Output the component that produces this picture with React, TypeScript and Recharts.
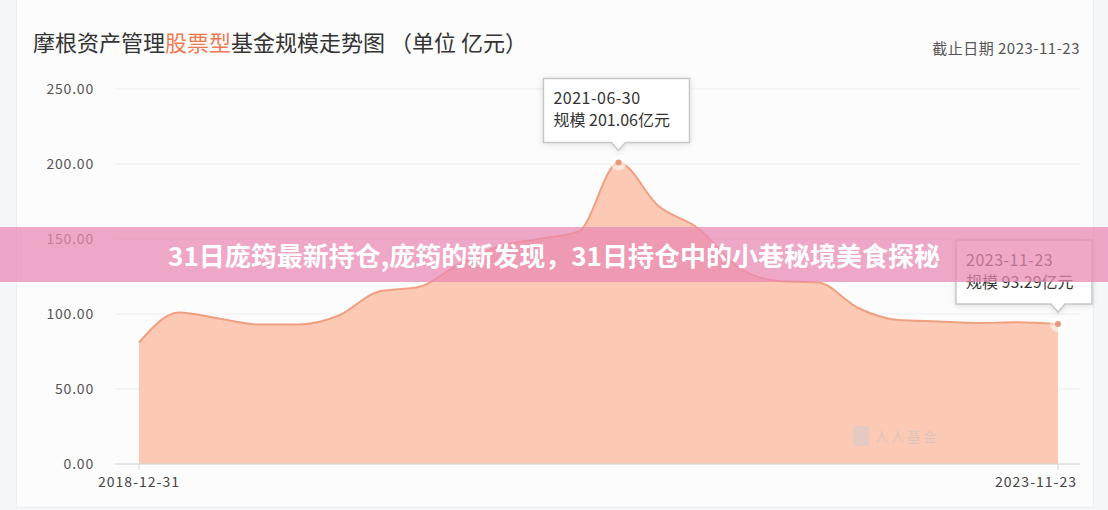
import { Area, AreaChart, CartesianGrid, LabelList, XAxis, YAxis } from "recharts";

// fund size (亿元)
const dates = [
  "2018-12-31", "2019-03-15", "2019-05-31", "2019-08-15", "2019-10-31", "2020-01-15",
  "2020-03-31", "2020-06-15", "2020-08-31", "2020-11-15", "2021-01-31", "2021-04-15",
  "2021-06-30", "2021-09-10", "2021-11-25", "2022-02-10", "2022-04-25", "2022-07-10",
  "2022-09-25", "2022-12-10", "2023-02-25", "2023-05-10", "2023-07-25", "2023-11-23",
];
const scale = [
  81, 101, 97, 93, 93, 99,
  115, 118, 133, 145, 150, 155,
  201.06, 172, 157, 131, 122, 121,
  104, 96, 95, 94, 94.5, 93.29,
];
const yTicks = [0, 50, 100, 150, 200, 250];
const xTicks = ["2018-12-31", "2023-11-23"];
const callouts = ["2021-06-30", "2023-11-23"];

const rows = dates.map((d, i) => ({ date: d, value: scale[i] }));

const FONT = '"Noto Sans CJK SC", "Noto Sans", sans-serif';

function Callout(props: any) {
  const { x, y, index } = props;
  const row = rows[index];
  if (!row || !callouts.includes(row.date)) return null;
  const w = row.value >= 100 ? 146 : 136;
  const h = 64;
  const left = Math.min(x - w / 2 - 2, 1092 - w);
  const bottom = y - 20;
  const top = bottom - h;
  return (
    <g>
      <path
        d={`M${left},${top} H${left + w} V${bottom} H${x + 7} L${x},${bottom + 8} L${x - 7},${bottom} H${left} Z`}
        fill="#fff"
        stroke="#c8c8c8"
        strokeWidth={1.5}
        style={{ filter: "drop-shadow(0 1px 3px rgba(0,0,0,0.12))" }}
      />
      <text x={left + 10} y={top + 26} fontSize={16} fill="#333" fontFamily={FONT} letterSpacing={0.5}>
        {row.date}
      </text>
      <text x={left + 10} y={top + 48} fontSize={16} fill="#333" fontFamily={FONT}>
        {`规模 ${row.value.toFixed(2)}亿元`}
      </text>
    </g>
  );
}

function Dot(props: any) {
  const { cx, cy, index } = props;
  const row = rows[index];
  if (!row || !callouts.includes(row.date)) return <g key={index} />;
  return (
    <g key={index}>
      <circle cx={cx} cy={cy} r={8} fill="#fff" fillOpacity={0.5} />
      <circle cx={cx} cy={cy} r={3} fill="#e9977a" />
    </g>
  );
}

function XTick(props: any) {
  const { x, y, payload } = props;
  const last = payload.value === xTicks[xTicks.length - 1];
  return (
    <text
      x={last ? x - 22 : x}
      y={y}
      dy={15}
      textAnchor="middle"
      fontSize={14}
      fill="#444"
      fontFamily={FONT}
      letterSpacing={1}
    >
      {payload.value}
    </text>
  );
}

export default function App() {
  return (
    <div
      style={{
        position: "absolute",
        left: 0,
        top: 0,
        width: 1108,
        height: 510,
        overflow: "hidden",
        background: "#f6f7f9",
        fontFamily: FONT,
      }}
    >
      <div
        style={{
          position: "absolute",
          left: 16,
          top: -2,
          width: 1076,
          height: 508,
          background: "#fcfcfd",
          border: "1px solid #eceef2",
        }}
      />
      <div style={{ position: "absolute", left: 33, top: 25, fontSize: 22, color: "#333", whiteSpace: "nowrap" }}>
        摩根资产管理<span style={{ color: "#f07a50" }}>股票型</span>基金规模走势图 （单位 亿元）
      </div>
      <div
        style={{
          position: "absolute",
          right: 28,
          top: 37,
          fontSize: 15,
          color: "#555",
          whiteSpace: "nowrap",
          letterSpacing: 0.5,
        }}
      >
        截止日期 2023-11-23
      </div>
      <div style={{ position: "absolute", left: 0, top: 0 }}>
        <AreaChart width={1108} height={510} data={rows} margin={{ top: 89, right: 28, bottom: 16, left: 0 }}>
          <CartesianGrid vertical={false} stroke="#eceef1" />
          <XAxis
            dataKey="date"
            ticks={xTicks}
            interval={0}
            padding={{ left: 24, right: 22 }}
            stroke="#d6d6d6"
            tickSize={6}
            tick={<XTick />}
          />
          <YAxis
            domain={[0, 250]}
            ticks={yTicks}
            width={115}
            axisLine={false}
            tickLine={false}
            tickSize={0}
            tickMargin={21}
            tickFormatter={(v) => Number(v).toFixed(2)}
            tick={{ fontSize: 14, fill: "#555", fontFamily: FONT, letterSpacing: 0.8 }}
          />
          <Area
            type="monotone"
            dataKey="value"
            stroke="#f0a080"
            strokeWidth={2}
            fill="#fccab4"
            fillOpacity={1}
            dot={<Dot />}
            activeDot={false}
            isAnimationActive={false}
          >
            <LabelList dataKey="value" content={<Callout />} />
          </Area>
        </AreaChart>
      </div>
      <div
        style={{
          position: "absolute",
          left: 853,
          top: 426,
          display: "flex",
          alignItems: "center",
          gap: 6,
          opacity: 0.45,
          color: "#b9bcc4",
        }}
      >
        <div style={{ width: 16, height: 20, background: "#c9ccd3", borderRadius: 3 }} />
        <div style={{ fontSize: 14, lineHeight: "20px", letterSpacing: 2 }}>人人基金</div>
      </div>
      <div
        style={{
          position: "absolute",
          left: 0,
          top: 227,
          width: 1108,
          height: 55,
          background: "rgba(234,138,178,0.74)",
          display: "flex",
          alignItems: "center",
          justifyContent: "center",
          color: "#fff",
          fontSize: 26,
          fontWeight: 700,
          whiteSpace: "nowrap",
        }}
      >
        31日庞筠最新持仓,庞筠的新发现，31日持仓中的小巷秘境美食探秘
      </div>
    </div>
  );
}
